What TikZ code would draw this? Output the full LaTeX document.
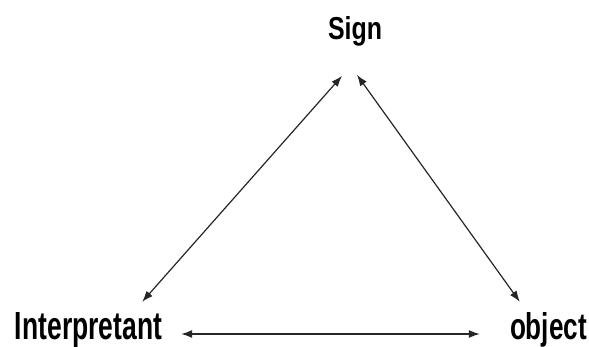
\documentclass[tikz,border=0pt]{standalone}
\usepackage{fontspec}
\setmainfont{Liberation Sans}
\usepackage{graphicx}
\usetikzlibrary{arrows.meta,positioning}

\begin{document}
\begin{tikzpicture}[x=1pt,y=1pt,>={Latex[length=11pt,width=8pt]},
  lbl/.style={font=\bfseries\fontsize{30}{30}\selectfont,anchor=base,inner sep=0pt},
  link/.style={<->,line width=1.2pt,black!85}]
\useasboundingbox (0,0) rectangle (589,347);

\node[lbl] (sign) at (355,307) {\resizebox{54pt}{23pt}{Sign}};
\node[lbl] (interp) at (88.5,7) {\resizebox{147pt}{27pt}{Interpretant}};
\node[lbl] (object) at (548.5,7) {\resizebox{77pt}{27pt}{object}};

\draw[link] ([xshift=-13pt,yshift=-29pt]sign.south) -- ([xshift=-20pt,yshift=11pt]interp.north east);
\draw[link] ([xshift=2pt,yshift=-28pt]sign.south) -- ([xshift=10pt,yshift=11pt]object.north west);
\draw[link] ([xshift=19pt,yshift=6pt]interp.base east) -- ([xshift=-30pt,yshift=6pt]object.base west);
\end{tikzpicture}
\end{document}
